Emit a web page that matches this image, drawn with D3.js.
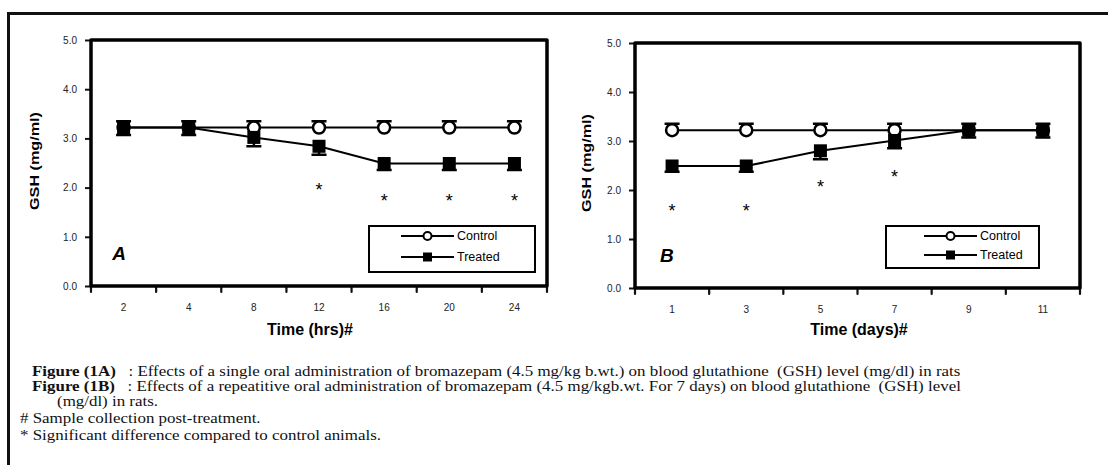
<!DOCTYPE html>
<html>
<head>
<meta charset="utf-8">
<script src="https://cdn.jsdelivr.net/npm/d3@7"></script>
<style>
  body { margin: 0; background: #fff; }
  svg { display: block; }
</style>
</head>
<body>
<svg id="fig" width="1108" height="465"></svg>
<script>
// ---- Panel A: single oral dose, sampled over hours ----
const hoursA      = ["2", "4", "8", "12", "16", "20", "24"];
const controlA    = [3.22, 3.22, 3.22, 3.22, 3.22, 3.22, 3.22];
const controlErrA = [0.13, 0.13, 0.13, 0.13, 0.13, 0.13, 0.13];
const treatedA    = [3.22, 3.22, 3.02, 2.84, 2.49, 2.49, 2.49];
const treatedErrA = [0.15, 0.15, 0.18, 0.17, 0.13, 0.13, 0.13];
const starAtA     = ["12", "16", "20", "24"];
const starLevelA  = [2.03, 1.81, 1.81, 1.81];

// ---- Panel B: repeated dosing, sampled over days ----
const daysB       = ["1", "3", "5", "7", "9", "11"];
const controlB    = [3.22, 3.22, 3.22, 3.22, 3.22, 3.22];
const controlErrB = [0.13, 0.13, 0.13, 0.13, 0.13, 0.13];
const treatedB    = [2.49, 2.49, 2.80, 3.01, 3.22, 3.22];
const treatedErrB = [0.12, 0.12, 0.17, 0.16, 0.15, 0.15];
const starAtB     = ["1", "3", "5", "7"];
const starLevelB  = [1.65, 1.65, 2.14, 2.35];

const yTicks = [0, 1, 2, 3, 4, 5];
const seriesNames = ["Control", "Treated"];

const captionLines = [
  { bold: "Figure (1A)", rest: "   : Effects of a single oral administration of bromazepam (4.5 mg/kg b.wt.) on blood glutathione  (GSH) level (mg/dl) in rats" },
  { bold: "Figure (1B)", rest: "   : Effects of a repeatitive oral administration of bromazepam (4.5 mg/kgb.wt. For 7 days) on blood glutathione  (GSH) level" },
  { bold: "", rest: "(mg/dl) in rats." },
  { bold: "", rest: "# Sample collection post-treatment." },
  { bold: "", rest: "* Significant difference compared to control animals." }
];

const svg = d3.select("#fig");
const SANS = "Arial, 'Liberation Sans', sans-serif";
const SERIF = "'Times New Roman', 'Liberation Serif', serif";

// outer page frame (top and left edges)
svg.append("path")
  .attr("d", "M8.5,465 V13.5 H1108")
  .attr("fill", "none").attr("stroke", "#111").attr("stroke-width", 3);

function panel(cfg) {
  const g = svg.append("g");
  const x = d3.scaleBand().domain(cfg.cats).range([cfg.left, cfg.right]);
  const y = d3.scaleLinear().domain([0, 5]).range([cfg.bottom, cfg.top]);
  const bw = x.bandwidth();
  const cx = c => x(c) + bw / 2;

  // y axis ticks + labels
  const ya = g.append("g")
    .attr("transform", `translate(${cfg.left},0)`)
    .call(d3.axisLeft(y).tickValues(yTicks).tickFormat(d3.format(".1f")).tickSize(6).tickPadding(8));
  ya.select(".domain").remove();
  ya.selectAll(".tick line").attr("stroke", "#111").attr("stroke-width", 2);
  ya.selectAll(".tick text").attr("font-family", SANS).attr("font-size", 10).attr("fill", "#222");

  // x axis labels at band centres
  const xa = g.append("g")
    .attr("transform", `translate(0,${cfg.bottom})`)
    .call(d3.axisBottom(x).tickSize(0).tickPadding(18));
  xa.select(".domain").remove();
  xa.selectAll(".tick text").attr("font-family", SANS).attr("font-size", 10).attr("fill", "#222");

  // x tick marks at band boundaries
  const edges = cfg.cats.map(c => x(c)).concat([cfg.right]);
  g.selectAll("line.xt").data(edges).join("line")
    .attr("x1", d => d).attr("x2", d => d)
    .attr("y1", cfg.bottom).attr("y2", cfg.bottom + 6)
    .attr("stroke", "#111").attr("stroke-width", 2.2).attr("stroke-linecap", "round");

  // plot frame
  g.append("rect")
    .attr("x", cfg.left).attr("y", cfg.top)
    .attr("width", cfg.right - cfg.left).attr("height", cfg.bottom - cfg.top)
    .attr("fill", "none").attr("stroke", "#000").attr("stroke-width", 3.5)
    .attr("stroke-linejoin", "round");

  // axis titles
  g.append("text")
    .attr("transform", `translate(${cfg.ylabX},${cfg.ylabY}) rotate(-90)`)
    .attr("text-anchor", "middle").attr("dominant-baseline", "central")
    .attr("font-family", SANS).attr("font-weight", "bold").attr("font-size", 13)
    .attr("textLength", 98).attr("lengthAdjust", "spacingAndGlyphs")
    .text("GSH (mg/ml)");
  g.append("text")
    .attr("x", cfg.xlabX).attr("y", 335)
    .attr("text-anchor", "middle")
    .attr("font-family", SANS).attr("font-weight", "bold").attr("font-size", 16)
    .text(cfg.xTitle);

  // panel letter
  g.append("text")
    .attr("x", cfg.left + 0.43 * bw).attr("y", y(0.53))
    .attr("text-anchor", "middle")
    .attr("font-family", SANS).attr("font-weight", "bold").attr("font-style", "italic")
    .attr("font-size", 19).text(cfg.letter);

  const line = d3.line().x(d => cx(d.c)).y(d => y(d.v));
  const ctrl = cfg.cats.map((c, i) => ({ c, v: cfg.control[i], e: cfg.controlErr[i] }));
  const trt  = cfg.cats.map((c, i) => ({ c, v: cfg.treated[i], e: cfg.treatedErr[i] }));
  const capW = 15;

  // control: line, upward error bars, open circles
  g.append("path").datum(ctrl).attr("d", line)
    .attr("fill", "none").attr("stroke", "#000").attr("stroke-width", 2);
  g.selectAll("path.ce").data(ctrl).join("path")
    .attr("d", d => `M${cx(d.c)},${y(d.v)}V${y(d.v + d.e)}M${cx(d.c) - capW / 2},${y(d.v + d.e)}H${cx(d.c) + capW / 2}`)
    .attr("fill", "none").attr("stroke", "#000").attr("stroke-width", 2.5);
  g.selectAll("circle.cm").data(ctrl).join("circle")
    .attr("cx", d => cx(d.c)).attr("cy", d => y(d.v)).attr("r", 6)
    .attr("fill", "#fff").attr("stroke", "#000").attr("stroke-width", 2.5);

  // treated: line, downward error bars, filled squares
  g.append("path").datum(trt).attr("d", line)
    .attr("fill", "none").attr("stroke", "#000").attr("stroke-width", 2);
  g.selectAll("path.te").data(trt).join("path")
    .attr("d", d => `M${cx(d.c)},${y(d.v)}V${y(d.v - d.e)}M${cx(d.c) - capW / 2},${y(d.v - d.e)}H${cx(d.c) + capW / 2}`)
    .attr("fill", "none").attr("stroke", "#000").attr("stroke-width", 2.5);
  const sq = 13;
  g.selectAll("rect.tm").data(trt).join("rect")
    .attr("x", d => cx(d.c) - sq / 2).attr("y", d => y(d.v) - sq / 2)
    .attr("width", sq).attr("height", sq).attr("fill", "#000");

  // significance marks
  const starFs = 18;
  g.selectAll("text.star").data(cfg.starAt.map((c, i) => ({ c, v: cfg.starLevel[i] }))).join("text")
    .attr("x", d => cx(d.c)).attr("y", d => y(d.v) + starFs * 0.55)
    .attr("text-anchor", "middle").attr("font-family", SANS).attr("font-size", starFs)
    .text("*");

  // legend
  const L = cfg.legend;
  g.append("rect").attr("x", L.x).attr("y", L.y).attr("width", L.w).attr("height", L.h)
    .attr("fill", "#fff").attr("stroke", "#000").attr("stroke-width", 2);
  seriesNames.forEach((name, i) => {
    const ry = L.y + L.row0 + i * L.dy;
    g.append("line").attr("x1", L.lx1).attr("x2", L.lx2).attr("y1", ry).attr("y2", ry)
      .attr("stroke", "#000").attr("stroke-width", 2);
    const mx = (L.lx1 + L.lx2) / 2;
    if (i === 0) {
      g.append("circle").attr("cx", mx).attr("cy", ry).attr("r", 4)
        .attr("fill", "#fff").attr("stroke", "#000").attr("stroke-width", 2);
    } else {
      g.append("rect").attr("x", mx - 4.5).attr("y", ry - 4.5).attr("width", 9).attr("height", 9).attr("fill", "#000");
    }
    g.append("text").attr("x", L.lx2 + 3).attr("y", ry).attr("dominant-baseline", "central")
      .attr("font-family", SANS).attr("font-size", 12.5).text(name);
  });
}

panel({
  cats: hoursA, control: controlA, controlErr: controlErrA,
  treated: treatedA, treatedErr: treatedErrA,
  starAt: starAtA, starLevel: starLevelA,
  left: 91, right: 547, top: 40, bottom: 286,
  ylabX: 34, ylabY: 161, xlabX: 310, xTitle: "Time (hrs)#", letter: "A",
  legend: { x: 369, y: 226, w: 166, h: 46, row0: 10, dy: 21, lx1: 401, lx2: 454 }
});

panel({
  cats: daysB, control: controlB, controlErr: controlErrB,
  treated: treatedB, treatedErr: treatedErrB,
  starAt: starAtB, starLevel: starLevelB,
  left: 635, right: 1080, top: 43, bottom: 288,
  ylabX: 586, ylabY: 163, xlabX: 859, xTitle: "Time (days)#", letter: "B",
  legend: { x: 886, y: 226, w: 153, h: 42, row0: 10, dy: 19, lx1: 924, lx2: 977 }
});

// caption block: serif text, widened horizontally so the first line runs to x≈961
const cap = svg.append("g").attr("font-family", SERIF).attr("font-size", 15).attr("fill", "#111");
const capX = [32, 32, 57, 20, 20];
const capY = [376, 391, 406, 423, 440];
const capTexts = captionLines.map((ln, i) => {
  const t = cap.append("text").attr("x", 0).attr("y", 0).attr("xml:space", "preserve");
  if (ln.bold) t.append("tspan").attr("font-weight", "bold").text(ln.bold);
  t.append("tspan").text(ln.rest);
  return t;
});
const natural = capTexts[0].node().getComputedTextLength();
const sx = (961 - capX[0]) / natural;
capTexts.forEach((t, i) => t.attr("transform", `translate(${capX[i]},${capY[i]}) scale(${sx},1)`));
</script>
</body>
</html>
